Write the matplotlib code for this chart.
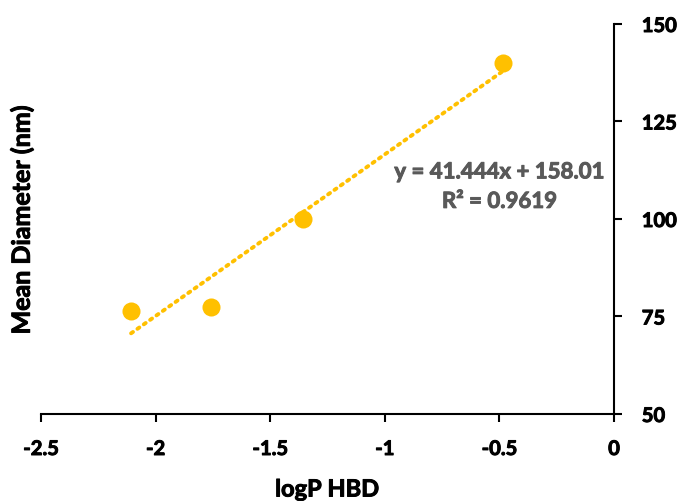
import matplotlib
matplotlib.use("Agg")
import matplotlib.pyplot as plt
import matplotlib.patheffects as pe
import numpy as np

plt.rcParams['font.family'] = ['Lato', 'DejaVu Sans']

logp = [-2.107, -1.758, -1.357, -0.484]
diam = [76.5, 77.5, 100.0, 140.0]
slope, intercept = 41.444, 158.01
x_ticks = [-2.5, -2, -1.5, -1, -0.5, 0]
x_labels = ['-2.5', '-2', '-1.5', '-1', '-0.5', '0']
y_ticks = [50, 75, 100, 125, 150]

fig = plt.figure(figsize=(6.77, 5.01), dpi=100)
ax = fig.add_axes([41/677, 1-414/501, 573/677, 390/501])

color = '#FFC000'
xs = np.array([min(logp), max(logp)])
ax.plot(xs, slope*xs + intercept, linestyle=(0, (0.6, 1.4)), color=color, lw=2.8,
        dash_capstyle='round', zorder=2)
ax.plot(logp, diam, 'o', color=color, markersize=13, zorder=3, markeredgewidth=0)

ax.set_xlim(-2.5, 0)
ax.set_ylim(50, 150)
ax.set_xticks(x_ticks)
ax.set_xticklabels(x_labels)
ax.set_yticks(y_ticks)

for s in ['left', 'top']:
    ax.spines[s].set_visible(False)
ax.spines['right'].set_linewidth(1.5)
ax.spines['bottom'].set_linewidth(1.5)
ax.yaxis.tick_right()
ax.tick_params(axis='both', direction='out', length=6, width=1.5, labelsize=14.5)
ax.tick_params(axis='y', pad=14)
ax.tick_params(axis='x', pad=12)
W = 'bold'

def thick(c):
    return [pe.withStroke(linewidth=0.7, foreground=c)]

for lbl in ax.get_xticklabels() + ax.get_yticklabels():
    lbl.set_fontweight(W)
    lbl.set_path_effects(thick('black'))

fig.text(327/677, 1-489/501, 'logP HBD', fontsize=17, fontweight=W,
         ha='center', va='center', path_effects=thick('black'))
fig.text(22/677, 1-220/501, 'Mean Diameter (nm)', rotation=90, fontsize=18,
         fontweight=W, ha='center', va='center', path_effects=thick('black'))

ax.text(-0.5, 108.3, 'y = 41.444x + 158.01\nR² = 0.9619', ha='center', va='center',
        fontsize=16, fontweight=W, color='#595959', linespacing=1.5,
        path_effects=thick('#595959'))

fig.savefig('out.png', dpi=100)
